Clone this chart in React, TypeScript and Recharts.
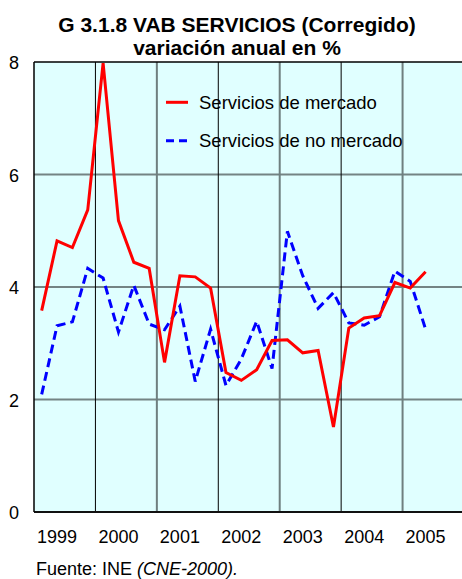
import React from "react";
import {
  LineChart,
  Line,
  XAxis,
  YAxis,
  CartesianGrid,
  ReferenceLine,
  Legend,
} from "recharts";

// quarterly, 1999 Q1 .. 2005 Q2
const years = [1999, 2000, 2001, 2002, 2003, 2004, 2005];
const quartersPerYear = 4;

const mercado = [
  3.58, 4.82, 4.7, 5.37, 7.98, 5.18, 4.44, 4.33,
  2.66, 4.2, 4.18, 3.98, 2.48, 2.34, 2.53, 3.05,
  3.06, 2.83, 2.87, 1.51, 3.27, 3.45, 3.49, 4.08,
  3.98, 4.27,
];

const noMercado = [
  2.09, 3.31, 3.38, 4.33, 4.16, 3.2, 4.03, 3.34,
  3.24, 3.66, 2.32, 3.25, 2.25, 2.72, 3.39, 2.55,
  4.99, 4.2, 3.62, 3.9, 3.36, 3.32, 3.47, 4.28,
  4.1, 3.25,
];

const yTicks = [0, 2, 4, 6, 8];

const FONT = '"Liberation Sans", Arial, Helvetica, sans-serif';

const data = mercado.map((v, i) => ({
  x: i + 0.5,
  mercado: v,
  noMercado: noMercado[i],
}));

// year labels sit under the second quarter of each year
const xTicks = years.map((_, i) => i * quartersPerYear + 1.5);
const yearBounds = years.slice(1).map((_, i) => (i + 1) * quartersPerYear);

function XTick({ x, payload }: any) {
  const year = years[Math.floor(payload.value / quartersPerYear)];
  return (
    <text x={x} y={543} textAnchor="middle" fontSize={18} fontFamily={FONT} fill="#000">
      {year}
    </text>
  );
}

function YTick({ y, payload }: any) {
  return (
    <text x={14} y={y + 7} textAnchor="middle" fontSize={18} fontFamily={FONT} fill="#000">
      {payload.value}
    </text>
  );
}

function LegendBox() {
  return (
    <svg width={260} height={70} style={{ display: "block" }}>
      <line x1={6} x2={28} y1={17.3} y2={17.3} stroke="#ff0000" strokeWidth={3} />
      <text x={39} y={24.3} fontSize={18.5} fontFamily={FONT} fill="#000">
        Servicios de mercado
      </text>
      <line x1={6} x2={28} y1={55.7} y2={55.7} stroke="#0000ff" strokeWidth={3} strokeDasharray="8 5" />
      <text x={39} y={61.7} fontSize={18.5} fontFamily={FONT} fill="#000">
        Servicios de no mercado
      </text>
    </svg>
  );
}

export default function App() {
  return (
    <div
      style={{
        position: "fixed",
        left: 0,
        top: 0,
        width: 462,
        height: 579,
        overflow: "hidden",
        background: "#fff",
        fontFamily: FONT,
      }}
    >
      <div
        style={{
          position: "absolute",
          left: 0,
          top: 12.9,
          width: 474,
          textAlign: "center",
          fontWeight: "bold",
          fontSize: 21,
          lineHeight: "23.3px",
          color: "#000",
        }}
      >
        G 3.1.8 VAB SERVICIOS (Corregido)
        <br />
        variación anual en %
      </div>

      <LineChart
        width={470}
        height={579}
        data={data}
        margin={{ top: 62, right: 6, bottom: 37, left: 0 }}
        style={{ position: "absolute", left: 0, top: 0 }}
      >
        <CartesianGrid
          vertical={false}
          horizontalValues={[2, 4, 6]}
          stroke="#748484"
          strokeWidth={2}
          fill="#e0ffff"
          fillOpacity={1}
        />
        {yearBounds.map((b, i) => (
          <ReferenceLine
            key={b}
            x={b}
            stroke={i % 2 === 0 ? "#000" : "#6f7f7f"}
            strokeWidth={i % 2 === 0 ? 1 : 2}
          />
        ))}
        <ReferenceLine y={8} stroke="#000" strokeWidth={1.5} />
        <XAxis
          type="number"
          dataKey="x"
          domain={[0, years.length * quartersPerYear]}
          ticks={xTicks}
          tick={<XTick />}
          tickLine={false}
          axisLine={{ stroke: "#111", strokeWidth: 2 }}
          height={30}
          allowDataOverflow
        />
        <YAxis
          domain={[0, 8]}
          ticks={yTicks}
          tick={<YTick />}
          tickLine={false}
          axisLine={{ stroke: "#000", strokeWidth: 1.5 }}
          width={34}
        />
        <Legend
          layout="horizontal"
          verticalAlign="middle"
          align="center"
          content={<LegendBox />}
          wrapperStyle={{ position: "absolute", left: 160, top: 85, width: 260 }}
        />
        <Line
          dataKey="noMercado"
          stroke="#0000ff"
          strokeWidth={3}
          strokeDasharray="9 5"
          dot={false}
          isAnimationActive={false}
        />
        <Line
          dataKey="mercado"
          stroke="#ff0000"
          strokeWidth={3}
          dot={false}
          isAnimationActive={false}
        />
      </LineChart>

      <div
        style={{
          position: "absolute",
          left: 36,
          top: 559.5,
          fontSize: 18,
          lineHeight: "18px",
          color: "#000",
          whiteSpace: "nowrap",
        }}
      >
        Fuente: INE <i>(CNE-2000).</i>
      </div>
    </div>
  );
}
